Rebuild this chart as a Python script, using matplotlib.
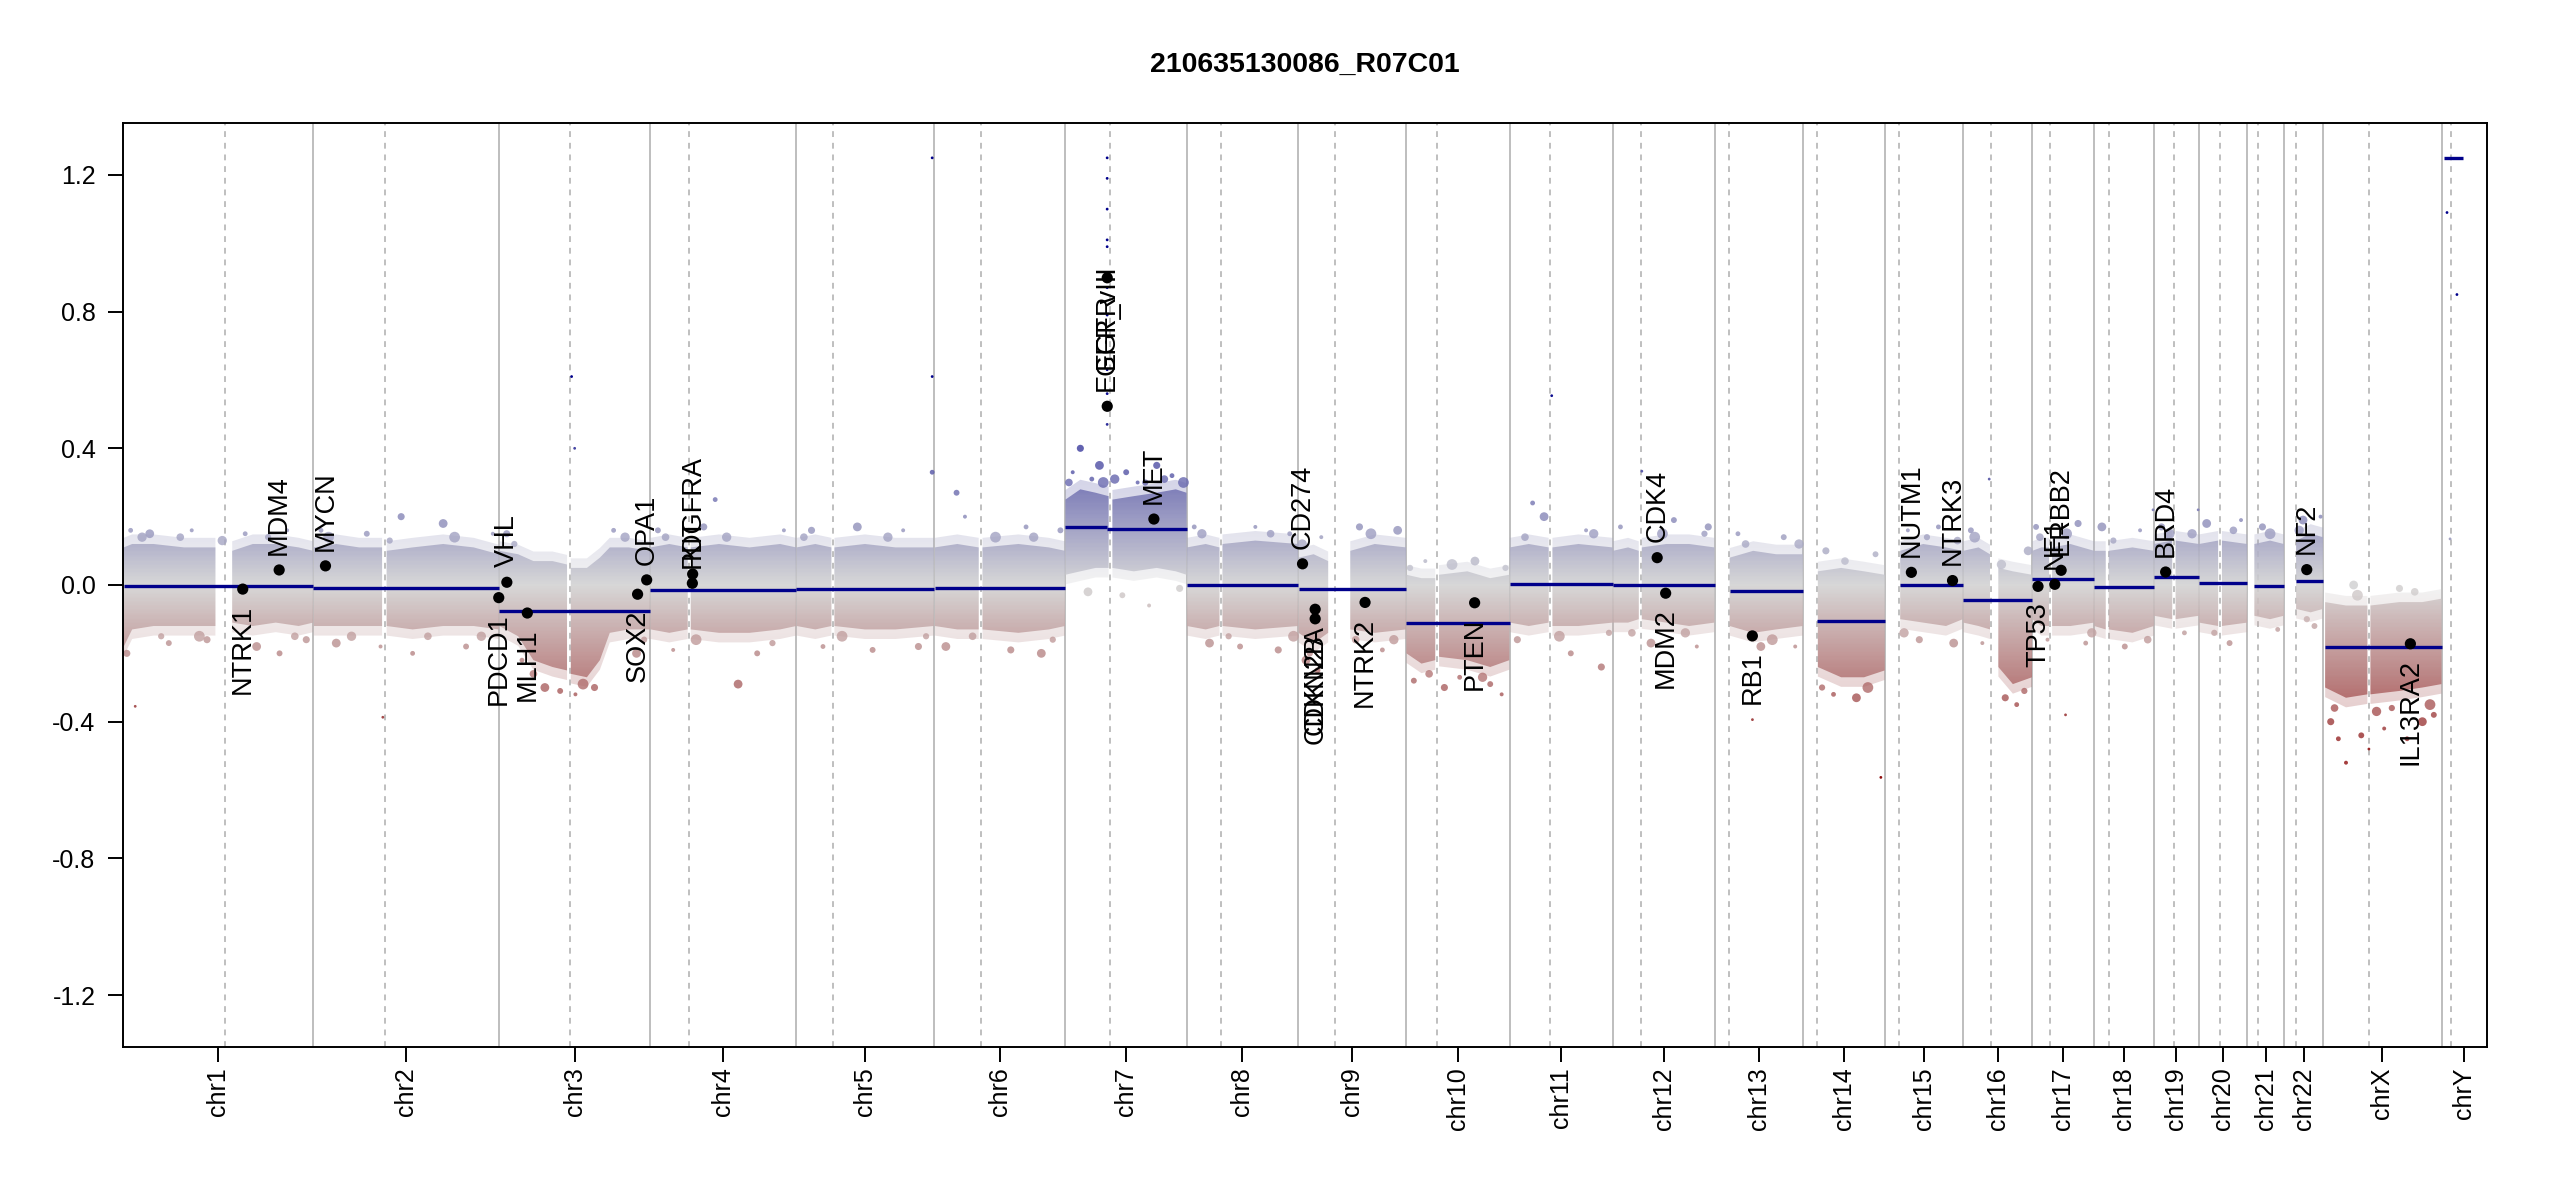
import numpy as np
import matplotlib
matplotlib.use("Agg")
import matplotlib.pyplot as plt
from matplotlib.colors import LinearSegmentedColormap, Normalize
from matplotlib.path import Path
from matplotlib.patches import PathPatch

plt.rcParams['font.family'] = ['Liberation Sans', 'DejaVu Sans']

# ---------------- data ----------------
title = "210635130086_R07C01"

chrom_names = ['chr1', 'chr2', 'chr3', 'chr4', 'chr5', 'chr6', 'chr7', 'chr8', 'chr9', 'chr10',
               'chr11', 'chr12', 'chr13', 'chr14', 'chr15', 'chr16', 'chr17', 'chr18', 'chr19',
               'chr20', 'chr21', 'chr22', 'chrX', 'chrY']
chrom_len_mb = [249.25, 243.20, 198.02, 191.15, 180.92, 171.12, 159.14, 146.36, 141.21, 135.53,
                135.01, 133.85, 115.17, 107.35, 102.53, 90.35, 81.20, 78.08, 59.13, 63.03,
                48.13, 51.30, 155.27, 59.37]
centromere_mb = [133.5, 93.6, 92.5, 51.2, 47.7, 60.6, 59.3, 45.1, 48.1, 40.7, 52.8, 36.5,
                 17.9, 18.2, 19.0, 36.8, 23.4, 18.7, 25.9, 27.5, 14.0, 16.0, 60.6, 11.8]

# segments
seg_chrom = ['chr1', 'chr2', 'chr3', 'chr4', 'chr5', 'chr6', 'chr7', 'chr7', 'chr8', 'chr9', 'chr10',
             'chr11', 'chr12', 'chr13', 'chr14', 'chr15', 'chr16', 'chr17', 'chr18', 'chr19',
             'chr20', 'chr21', 'chr22', 'chrX', 'chrY']
seg_start = [0.8, 0.0, 0.1, 0.05, 0.0, 0.2, 0.05, 55.3, 0.2, 0.2, 0.1, 0.2, 0.2, 19.0, 19.0, 20.0,
             0.1, 0.1, 0.1, 0.2, 0.1, 9.4, 16.0, 2.7, 3.0]
seg_end = [249.2, 243.1, 197.9, 191.0, 180.8, 171.0, 55.0, 159.1, 146.3, 141.1, 135.5, 134.9, 133.8,
           115.1, 107.3, 102.4, 90.3, 81.1, 78.0, 59.1, 62.9, 48.1, 51.2, 155.2, 28.0]
seg_value = [-0.004, -0.009, -0.076, -0.015, -0.012, -0.009, 0.171, 0.164, 0.000, -0.012, -0.110,
             0.003, -0.001, -0.018, -0.105, 0.000, -0.044, 0.018, -0.005, 0.022, 0.006, -0.003,
             0.012, -0.181, 1.250]

# dense bin cloud envelope (upper / lower edge of the core), per chromosome arm
env_chrom = (['chr1'] * 10 + ['chr2'] * 9 + ['chr3'] * 11 + ['chr4'] * 8 + ['chr5'] * 7 +
             ['chr6'] * 7 + ['chr7'] * 9 + ['chr8'] * 6 + ['chr9'] * 6 + ['chr10'] * 7 +
             ['chr11'] * 6 + ['chr12'] * 7 + ['chr13'] * 4 + ['chr14'] * 4 + ['chr15'] * 4 +
             ['chr16'] * 6 + ['chr17'] * 6 + ['chr18'] * 5 + ['chr19'] * 4 + ['chr20'] * 4 +
             ['chr21'] * 3 + ['chr22'] * 3 + ['chrX'] * 7)
env_arm = (['p'] * 5 + ['q'] * 5 + ['p'] * 4 + ['q'] * 5 + ['p'] * 5 + ['q'] * 6 +
           ['p'] * 3 + ['q'] * 5 + ['p'] * 3 + ['q'] * 4 + ['p'] * 3 + ['q'] * 4 +
           ['p'] * 4 + ['q'] * 5 + ['p'] * 3 + ['q'] * 3 + ['p'] * 3 + ['q'] * 3 +
           ['p'] * 3 + ['q'] * 4 + ['p'] * 3 + ['q'] * 3 + ['p'] * 3 + ['q'] * 4 +
           ['q'] * 4 + ['q'] * 4 + ['q'] * 4 + ['p'] * 3 + ['q'] * 3 + ['p'] * 3 + ['q'] * 3 +
           ['p'] * 2 + ['q'] * 3 + ['p'] * 2 + ['q'] * 2 + ['p'] * 2 + ['q'] * 2 +
           ['q'] * 3 + ['q'] * 3 + ['p'] * 3 + ['q'] * 4)
env_mb = [1, 12, 40, 80, 121, 143, 170, 200, 230, 249,
          0.5, 30, 60, 90, 96, 130, 170, 210, 243,
          0.5, 25, 45, 70, 89, 94, 115, 132, 145, 170, 198,
          0.5, 25, 49, 53, 90, 130, 170, 191,
          0.5, 25, 46, 50, 90, 130, 180,
          0.5, 30, 58, 63, 110, 150, 171,
          0.5, 20, 40, 57, 62, 90, 120, 145, 159,
          0.5, 25, 43, 47, 90, 146,
          0.3, 20, 39, 68, 100, 141,
          0.3, 20, 38, 43, 80, 110, 135,
          0.2, 25, 51, 56, 90, 135,
          0.2, 20, 34, 38, 70, 100, 133,
          19.2, 50, 80, 115,
          19.5, 50, 80, 107,
          20, 50, 80, 102,
          0.1, 20, 35, 46, 65, 90,
          0.1, 12, 22, 26, 50, 81,
          0.1, 15, 19, 50, 78,
          0.3, 24, 28.5, 59,
          0.1, 25, 30, 63,
          9.5, 30, 48,
          16, 35, 51,
          2.7, 30, 58, 62, 100, 130, 155]
env_upper = [0.11, 0.12, 0.12, 0.11, 0.11, 0.10, 0.12, 0.12, 0.11, 0.10,
             0.11, 0.12, 0.11, 0.11, 0.10, 0.11, 0.12, 0.11, 0.09,
             0.10, 0.09, 0.07, 0.07, 0.06, 0.05, 0.05, 0.08, 0.11, 0.11, 0.10,
             0.11, 0.12, 0.11, 0.11, 0.12, 0.11, 0.12, 0.11,
             0.11, 0.12, 0.11, 0.11, 0.12, 0.11, 0.11,
             0.11, 0.12, 0.11, 0.11, 0.12, 0.11, 0.10,
             0.25, 0.28, 0.27, 0.26, 0.25, 0.26, 0.27, 0.28, 0.27,
             0.11, 0.12, 0.11, 0.12, 0.13, 0.12,
             0.08, 0.09, 0.07, 0.10, 0.12, 0.11,
             0.03, 0.02, 0.02, 0.03, 0.04, 0.02, 0.03,
             0.11, 0.12, 0.11, 0.11, 0.12, 0.11,
             0.10, 0.11, 0.10, 0.11, 0.12, 0.12, 0.11,
             0.08, 0.10, 0.09, 0.09,
             0.04, 0.05, 0.04, 0.03,
             0.10, 0.12, 0.11, 0.10,
             0.10, 0.11, 0.09, 0.05, 0.04, 0.03,
             0.10, 0.11, 0.11, 0.11, 0.12, 0.10,
             0.10, 0.10, 0.10, 0.11, 0.10,
             0.12, 0.13, 0.13, 0.12,
             0.12, 0.13, 0.13, 0.12,
             0.12, 0.13, 0.12,
             0.13, 0.15, 0.14,
             -0.05, -0.06, -0.06, -0.06, -0.05, -0.05, -0.04]
env_lower = [-0.18, -0.13, -0.12, -0.12, -0.12, -0.11, -0.12, -0.11, -0.12, -0.11,
             -0.12, -0.12, -0.12, -0.12, -0.12, -0.13, -0.12, -0.12, -0.13,
             -0.12, -0.15, -0.22, -0.24, -0.25, -0.26, -0.27, -0.22, -0.14, -0.13, -0.13,
             -0.13, -0.14, -0.13, -0.13, -0.14, -0.14, -0.13, -0.12,
             -0.12, -0.13, -0.12, -0.12, -0.13, -0.13, -0.12,
             -0.12, -0.13, -0.13, -0.13, -0.14, -0.13, -0.12,
             0.03, 0.04, 0.05, 0.05, 0.05, 0.04, 0.05, 0.04, 0.03,
             -0.12, -0.13, -0.12, -0.12, -0.13, -0.12,
             -0.14, -0.17, -0.14, -0.13, -0.14, -0.13,
             -0.20, -0.23, -0.22, -0.21, -0.22, -0.24, -0.22,
             -0.11, -0.12, -0.11, -0.12, -0.12, -0.11,
             -0.11, -0.11, -0.10, -0.10, -0.11, -0.12, -0.11,
             -0.12, -0.14, -0.13, -0.12,
             -0.24, -0.27, -0.27, -0.25,
             -0.10, -0.11, -0.12, -0.10,
             -0.11, -0.12, -0.13, -0.24, -0.29, -0.27,
             -0.10, -0.12, -0.12, -0.12, -0.12, -0.11,
             -0.12, -0.13, -0.13, -0.14, -0.12,
             -0.09, -0.10, -0.10, -0.09,
             -0.11, -0.12, -0.12, -0.11,
             -0.09, -0.10, -0.09,
             -0.07, -0.08, -0.07,
             -0.30, -0.33, -0.32, -0.32, -0.31, -0.30, -0.29]

# scattered bins outside the dense core
dot_chrom = (['chr1'] * 11 + ['chr2'] * 9 + ['chr3'] * 8 + ['chr4'] * 7 + ['chr5'] * 7 +
             ['chr6'] * 7 + ['chr7'] * 12 + ['chr8'] * 6 + ['chr9'] * 6 + ['chr10'] * 7 +
             ['chr11'] * 6 + ['chr12'] * 5 + ['chr13'] * 4 + ['chr14'] * 4 + ['chr15'] * 4 +
             ['chr16'] * 5 + ['chr17'] * 4 + ['chr18'] * 3 + ['chr19'] * 2 + ['chr20'] * 3 +
             ['chr21'] * 2 + ['chr22'] * 3 + ['chrX'] * 10)
dot_mb = [5, 10, 35, 60, 90, 110, 160, 175, 205, 215, 240,
          10, 30, 70, 88, 115, 130, 170, 200, 235,
          10, 30, 60, 80, 100, 125, 150, 180,
          10, 30, 70, 85, 115, 140, 175,
          20, 35, 80, 100, 140, 160, 178,
          15, 29, 40, 100, 120, 140, 165,
          10, 20, 35, 45, 80, 95, 120, 140, 30, 75, 110, 150,
          10, 30, 70, 90, 120, 135,
          10, 25, 30, 80, 110, 130,
          10, 25, 50, 70, 90, 110, 125,
          10, 30, 45, 80, 100, 120,
          10, 50, 80, 110, 125,
          30, 60, 90, 105,
          30, 40, 70, 95,
          30, 45, 70, 90,
          10, 25, 55, 70, 85,
          5, 20, 60, 70,
          10, 40, 60,
          10, 40,
          10, 40, 55,
          20, 40,
          25, 40, 48,
          10, 20, 40, 50, 80, 100, 110, 130, 145, 30]
dot_value = [-0.20, 0.16, 0.15, -0.17, 0.16, -0.16, 0.15, -0.18, -0.20, 0.16, -0.16,
             0.16, -0.17, 0.15, -0.18, 0.20, -0.20, 0.18, -0.18, 0.15,
             0.15, -0.22, -0.30, -0.31, -0.32, -0.30, 0.16, -0.20,
             0.16, -0.19, 0.17, 0.25, -0.29, -0.20, 0.16,
             0.16, -0.18, 0.17, -0.19, 0.16, -0.18, 0.33,
             -0.18, 0.27, 0.20, -0.19, 0.17, -0.20, 0.16,
             0.33, 0.40, 0.31, 0.35, 0.33, 0.30, 0.35, 0.32, -0.02, -0.03, -0.06, -0.01,
             0.17, -0.17, -0.18, 0.17, -0.19, 0.15,
             -0.22, -0.25, 0.14, 0.17, -0.19, 0.16,
             -0.28, 0.07, -0.30, -0.27, 0.07, -0.29, -0.32,
             -0.16, 0.24, 0.20, -0.20, 0.16, -0.24,
             0.17, -0.17, 0.19, -0.18, 0.17,
             0.15, -0.18, 0.14, -0.18,
             0.10, -0.32, -0.33, 0.09,
             0.16, -0.16, 0.17, -0.17,
             0.16, -0.17, -0.33, -0.35, 0.10,
             0.17, -0.16, 0.18, -0.17,
             0.17, -0.18, 0.16,
             0.17, -0.14,
             0.18, -0.17, 0.19,
             0.17, -0.13,
             0.19, -0.12, 0.20,
             -0.40, -0.45, 0.00, -0.44, -0.42, -0.01, -0.45, -0.40, -0.38, -0.52]

# bins sitting right on the ragged edge of the cloud
edge_chrom = (['chr1'] * 7 + ['chr2'] * 6 + ['chr3'] * 5 + ['chr4'] * 4 + ['chr5'] * 4 +
              ['chr6'] * 4 + ['chr7'] * 6 + ['chr8'] * 4 + ['chr9'] * 5 + ['chr10'] * 5 +
              ['chr11'] * 4 + ['chr12'] * 4 + ['chr13'] * 3 + ['chr14'] * 3 + ['chr15'] * 3 +
              ['chr16'] * 3 + ['chr17'] * 3 + ['chr18'] * 2 + ['chr19'] * 2 + ['chr20'] * 2 +
              ['chr21'] * 1 + ['chr22'] * 2 + ['chrX'] * 6)
edge_mb = [25, 50, 75, 100, 130, 190, 225,
           20, 50, 100, 150, 185, 220,
           20, 45, 110, 165, 190,
           20, 60, 100, 160,
           10, 60, 120, 170,
           50, 80, 130, 155,
           5, 50, 65, 105, 130, 155,
           20, 55, 110, 140,
           5, 15, 75, 95, 125,
           5, 30, 60, 100, 130,
           20, 65, 110, 130,
           25, 65, 95, 120,
           40, 75, 110,
           25, 55, 85,
           25, 55, 95,
           15, 50, 80,
           10, 45, 78,
           25, 70,
           20, 50,
           20, 45,
           30,
           20, 30,
           15, 45, 70, 90, 120, 140]
edge_value = [0.14, -0.15, 0.14, -0.15, 0.13, 0.14, -0.15,
              0.14, -0.15, 0.13, -0.15, 0.14, -0.15,
              0.12, -0.26, -0.29, 0.14, -0.16,
              0.14, -0.16, 0.14, -0.17,
              0.14, -0.15, 0.14, -0.15,
              -0.15, 0.14, 0.14, -0.16,
              0.30, 0.30, 0.31, 0.30, 0.31, 0.30,
              0.15, -0.15, 0.15, -0.15,
              0.12, -0.20, -0.16, 0.15, -0.16,
              0.05, -0.26, 0.06, -0.27, 0.05,
              0.14, -0.15, 0.15, -0.14,
              -0.14, 0.15, -0.14, 0.15,
              0.12, -0.16, 0.12,
              -0.30, 0.07, -0.30,
              -0.14, 0.14, 0.13,
              0.14, 0.06, -0.31,
              0.14, 0.15, -0.14,
              0.13, -0.16,
              0.15, 0.15,
              -0.14, 0.16,
              0.15,
              0.16, -0.10,
              -0.36, -0.03, -0.37, -0.36, -0.02, -0.35]

# isolated tiny outlier bins
out_chrom = ['chr7'] * 10 + ['chr5', 'chr5', 'chr1', 'chr2', 'chr3', 'chr3', 'chr11', 'chr12',
                             'chr13', 'chr14', 'chr16', 'chr17', 'chr18', 'chr19', 'chrX',
                             'chrY', 'chrY', 'chrY']
out_mb = [55.1, 55.1, 55.1, 55.1, 55.1, 55.1, 55.1, 55.1, 55.1, 55.1,
          178, 178, 16, 91, 99, 95, 55, 38, 49, 102, 34, 43.6, 77, 58, 60, 7, 20, 11]
out_value = [1.25, 1.19, 1.10, 1.01, 0.99, 0.87, 0.79, 0.63, 0.56, 0.47,
             1.25, 0.61, -0.355, -0.387, 0.40, 0.61, 0.554, 0.333, -0.394, -0.563, 0.31,
             -0.38, 0.22, 0.22, -0.48, 1.09, 0.85, 0.135]

# highlighted genes
gene_name = ['NTRK1', 'MDM4', 'MYCN', 'PDCD1', 'VHL', 'MLH1', 'SOX2', 'OPA1', 'PDGFRA', 'KIT',
             'EGFR_vIII', 'EGFR', 'MET', 'CD274', 'CDKN2A', 'CDKN2B', 'NTRK2', 'PTEN', 'CDK4',
             'MDM2', 'RB1', 'NUTM1', 'NTRK3', 'TP53', 'NF1', 'ERBB2', 'BRD4', 'NF2', 'IL13RA2']
gene_chrom = ['chr1', 'chr1', 'chr2', 'chr2', 'chr3', 'chr3', 'chr3', 'chr3', 'chr4', 'chr4',
              'chr7', 'chr7', 'chr7', 'chr9', 'chr9', 'chr9', 'chr9', 'chr10', 'chr12',
              'chr12', 'chr13', 'chr15', 'chr15', 'chr17', 'chr17', 'chr17', 'chr19', 'chr22', 'chrX']
gene_mb = [156.8, 204.5, 15.9, 242.8, 10.2, 37.0, 181.4, 193.3, 55.1, 55.5,
           55.2, 55.2, 116.3, 5.45, 21.97, 22.0, 87.3, 89.6, 58.1,
           69.2, 48.9, 34.6, 88.5, 7.57, 29.5, 37.85, 15.4, 29.9, 114.3]
gene_value = [-0.012, 0.044, 0.056, -0.037, 0.008, -0.082, -0.027, 0.015, 0.005, 0.032,
              0.523, 0.899, 0.193, 0.062, -0.071, -0.099, -0.051, -0.052, 0.080,
              -0.024, -0.149, 0.037, 0.013, -0.004, 0.002, 0.043, 0.038, 0.045, -0.172]

y_ticks = [-1.2, -0.8, -0.4, 0.0, 0.4, 0.8, 1.2]
y_limit = 1.352

# ---------------- layout helpers ----------------
chrom_start = dict(zip(chrom_names, np.concatenate([[0.0], np.cumsum(chrom_len_mb)[:-1]])))
genome_total = float(np.sum(chrom_len_mb))
boundaries = np.concatenate([[0.0], np.cumsum(chrom_len_mb)])
mids = [chrom_start[c] + l / 2 for c, l in zip(chrom_names, chrom_len_mb)]

def gpos(ch, mb):
    return np.array([chrom_start[c] for c in ch]) + np.asarray(mb, dtype=float)

cmap = LinearSegmentedColormap.from_list(
    'cnv', [(0.0, '#8B0000'), (0.5, '#D3D3D3'), (1.0, '#00008B')])
norm = Normalize(vmin=-0.6, vmax=0.6)

# ---------------- figure ----------------
fig = plt.figure(figsize=(25.5, 12), dpi=100)
ax = fig.add_axes([123 / 2550, 153 / 1200, 2364 / 2550, 924 / 1200])

for b in boundaries:
    ax.axvline(b, color='#bebebe', lw=1.4, zorder=1)
for c, cm in zip(chrom_names, centromere_mb):
    ax.axvline(chrom_start[c] + cm, color='#b4b4b4', lw=1.2, ls=(0, (3.5, 3.5)), zorder=1)

# dense cloud: gradient clipped to envelope polygons (core + softer halo)
keys = []
for c, a in zip(env_chrom, env_arm):
    if (c, a) not in keys:
        keys.append((c, a))
ec = np.array(env_chrom); ea = np.array(env_arm)
em = np.array(env_mb, float); eu = np.array(env_upper); el = np.array(env_lower)

def cloud_path(grow):
    verts, codes = [], []
    for c, a in keys:
        m = (ec == c) & (ea == a)
        x = chrom_start[c] + em[m]
        poly = list(zip(x, eu[m] + grow)) + list(zip(x[::-1], el[m][::-1] - grow))
        verts += poly + [poly[0]]
        codes += [Path.MOVETO] + [Path.LINETO] * (len(poly) - 1) + [Path.CLOSEPOLY]
    return Path(verts, codes)

grad = np.linspace(-y_limit, y_limit, 800)[:, None]
for grow, alpha, z in [(0.028, 0.28, 1.8), (0.0, 0.84, 2.0)]:
    im = ax.imshow(grad, extent=(0, genome_total, -y_limit, y_limit), origin='lower',
                   aspect='auto', cmap=cmap, norm=norm, alpha=alpha, interpolation='bilinear',
                   zorder=z)
    im.set_clip_path(PathPatch(cloud_path(grow), transform=ax.transData,
                               facecolor='none', edgecolor='none'))

dx = gpos(dot_chrom, dot_mb)
sizes = np.array([26, 12, 40, 18, 8])[np.arange(len(dx)) % 5]
ax.scatter(dx, dot_value, s=sizes, c=dot_value, cmap=cmap, norm=norm, edgecolors='none',
           alpha=0.85, zorder=2.5)
ex = gpos(edge_chrom, edge_mb)
esz = np.array([45, 20, 30, 60])[np.arange(len(ex)) % 4]
ax.scatter(ex, edge_value, s=esz, c=edge_value, cmap=cmap, norm=norm, edgecolors='none',
           alpha=0.8, zorder=2.5)
ox = gpos(out_chrom, out_mb)
ax.scatter(ox, out_value, s=4, c=out_value, cmap=cmap, norm=norm, edgecolors='none', zorder=2.5)

sx0 = gpos(seg_chrom, seg_start)
sx1 = gpos(seg_chrom, seg_end)
ax.hlines(seg_value, sx0, sx1, colors='#00008B', lw=2.4, zorder=3)

gx = gpos(gene_chrom, gene_mb)
ax.scatter(gx, gene_value, s=65, color='black', zorder=4, edgecolors='none')
for n, x, v in zip(gene_name, gx, gene_value):
    above = (v > 0) and (v < 0.8)
    ax.annotate(n, (x, v), xytext=(0, 11 if above else -11), textcoords='offset points',
                rotation=90, ha='center', va='bottom' if above else 'top', fontsize=19.5,
                color='black', zorder=5)

ax.set_xlim(0, genome_total)
ax.set_ylim(-y_limit, y_limit)
ax.set_yticks(y_ticks)
ax.set_yticklabels([f"{t:.1f}" for t in y_ticks])
ax.set_xticks(mids)
ax.set_xticklabels(chrom_names, rotation=90)
ax.tick_params(axis='both', length=10.8, width=1.4, labelsize=18, color='black')
ax.tick_params(axis='x', pad=4)
ax.tick_params(axis='y', pad=9)
for s in ax.spines.values():
    s.set_linewidth(1.4)
    s.set_zorder(6)

fig.text(1305 / 2550, 1 - 72 / 1200, title, ha='center', va='baseline', fontsize=20.5,
         fontweight='bold')

fig.savefig('out.png', dpi=100)
